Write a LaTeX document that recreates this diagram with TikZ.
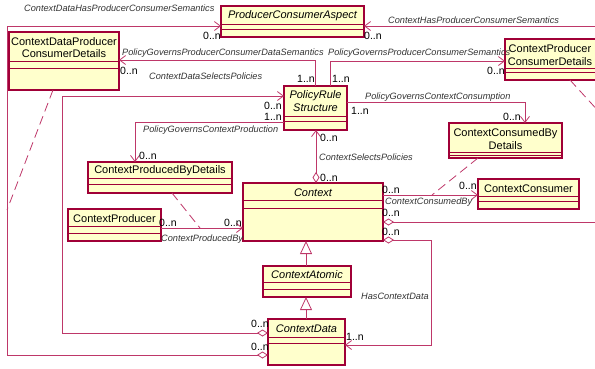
\documentclass[tikz,border=0pt]{standalone}
\usepackage{fontspec}
\setmainfont{Liberation Sans}
\usetikzlibrary{arrows.meta}
\definecolor{boxfill}{RGB}{255,255,204}
\definecolor{boxline}{RGB}{160,0,55}
\definecolor{conn}{RGB}{190,55,105}
\tikzset{
  clsbox/.style={draw=boxline, fill=boxfill, line width=1.1pt, inner sep=0pt, outer sep=0pt, rectangle},
  cline/.style={draw=boxline, line width=0.9pt},
  ttl/.style={font=\fontsize{11}{12.8}\selectfont, align=center, inner sep=0pt},
  ittl/.style={font=\fontsize{11}{12.8}\selectfont\itshape, align=center, inner sep=0pt},
  assoc/.style={draw=conn, line width=0.8pt},
  dashlink/.style={draw=conn, line width=0.8pt, dash pattern=on 9pt off 5pt},
  lbl/.style={font=\fontsize{9.2}{10}\selectfont\itshape, text=black!80, inner sep=0pt, anchor=west},
  mult/.style={font=\fontsize{10.5}{11}\selectfont, inner sep=0pt, anchor=west},
  barb/.style={arrows={-{Straight Barb[length=6pt,width=9pt]}}},
  dbarb/.style={arrows={{Diamond[open,length=11pt,width=7pt]}-{Straight Barb[length=6pt,width=9pt]}}},
  gen/.style={arrows={-{Triangle[open,length=13pt,width=12pt]}}},
}
\newcommand\umlcls[7]{%
  \node[clsbox, anchor=north west, minimum width={#4-#2}, minimum height={#5-#3}] (#1) at (#2,#3) {};
  \draw[cline] (#2,#6) -- (#4,#6) (#2,#7) -- (#4,#7);
}
\begin{document}
\begin{tikzpicture}[x=1pt,y=-1pt]
\useasboundingbox (0,0) rectangle (595,368);

% ---------- classes ----------
\umlcls{cdpcd}{9}{32}{119}{90}{61}{68}
\umlcls{pca}{221}{6}{364}{37}{24}{29}
\umlcls{cpcd}{505}{39}{600}{80}{68}{72}
\umlcls{prs}{284}{86}{347}{130}{116}{121}
\umlcls{ccbd}{449}{123}{562}{158}{152}{155}
\umlcls{cpbd}{88}{162}{232}{193}{178}{184}
\umlcls{cc}{478}{179}{579}{209}{196}{201}
\umlcls{ctx}{243}{183}{383}{241}{200}{208}
\umlcls{cp}{68}{209}{161}{241}{226}{233}
\umlcls{ca}{263}{266}{351}{297}{282}{289}
\umlcls{cd}{268}{319}{345}{365}{337}{343}

\node[ttl]  (tcdpcd) at (64,47.5) {ContextDataProducer\\ConsumerDetails};
\node[ittl] (tpca)   at (292.5,15.5) {ProducerConsumerAspect};
\node[ttl]  (tcpcd)  at (550,55) {ContextProducer\\ConsumerDetails};
\node[ittl] (tprs)   at (315.5,101) {PolicyRule\\Structure};
\node[ttl]  (tccbd)  at (505.5,139) {ContextConsumedBy\\Details};
\node[ttl]  (tcpbd)  at (160,171) {ContextProducedByDetails};
\node[ttl]  (tcc)    at (528.5,188.5) {ContextConsumer};
\node[ittl] (tctx)   at (313,192.5) {Context};
\node[ttl]  (tcp)    at (114.5,218.5) {ContextProducer};
\node[ittl] (tca)    at (307,275) {ContextAtomic};
\node[ittl] (tcd)    at (306.5,329) {ContextData};

% ---------- helper coordinates ----------
\coordinate (k1) at (7,355);
\coordinate (k2) at (7,26);
\coordinate (r1) at (620,222);
\coordinate (r2) at (620,26);
\coordinate (h1) at (431,240);
\coordinate (h2) at (431,345);
\coordinate (Y195) at (0,195);
\coordinate (Y228) at (0,228);
\coordinate (X316) at (316,0);
\coordinate (X306) at (306,0);
\coordinate (s1) at (62,333);
\coordinate (s2) at (62,96);
\coordinate (p1) at (315,60);
\coordinate (p2) at (330,61);
\coordinate (c1) at (525,102);
\coordinate (c2) at (135,122);
\coordinate (m1) at (432,195);
\coordinate (m2) at (200,228);
\coordinate (m3) at (7,210);
\coordinate (m4) at (622,137);
\coordinate (X53) at (53,0);
\coordinate (X570) at (570,0);
\coordinate (X478) at (478,0);
\coordinate (X172) at (172,0);

% ---------- connectors ----------
% ContextData -> ProducerConsumerAspect
\draw[assoc, dbarb] (cd.west |- k1) -- (k1) -- (k2) -- (pca.west |- k2);
% Context -> ProducerConsumerAspect
\draw[assoc, dbarb] (ctx.east |- r1) -- (r1) -- (r2) -- (pca.east |- r2);
% HasContextData
\draw[assoc, dbarb] (ctx.east |- h1) -- (h1) -- (h2) -- (cd.east |- h2);
% ContextConsumedBy
\draw[assoc, barb] (ctx.east |- Y195) -- (cc.west |- Y195);
% ContextProducedBy
\draw[assoc, barb] (cp.east |- Y228) -- (ctx.west |- Y228);
% ContextSelectsPolicies
\draw[assoc, dbarb] (ctx.north -| X316) -- (prs.south -| X316);
% ContextDataSelectsPolicies
\draw[assoc, dbarb] (cd.west |- s1) -- (s1) -- (s2) -- (prs.west |- s2);
% PolicyGovernsProducerConsumerDataSemantics
\draw[assoc, barb] (prs.north -| p1) -- (p1) -- (cdpcd.east |- p1);
% PolicyGovernsProducerConsumerSemantics
\draw[assoc, barb] (prs.north -| p2) -- (p2) -- (cpcd.west |- p2);
% PolicyGovernsContextConsumption
\draw[assoc, barb] (prs.east |- c1) -- (c1) -- (ccbd.north -| c1);
% PolicyGovernsContextProduction
\draw[assoc, barb] (prs.west |- c2) -- (c2) -- (cpbd.north -| c2);
% association-class links
\draw[dashlink] (ccbd.south -| X478) -- (m1);
\draw[dashlink] (cpbd.south -| X172) -- (m2);
\draw[dashlink] (cdpcd.south -| X53) -- (m3);
\draw[dashlink] (cpcd.south -| X570) -- (m4);
% generalizations
\draw[assoc, gen] (ca.north -| X306) -- (ctx.south -| X306);
\draw[assoc, gen] (cd.north -| X306) -- (ca.south -| X306);

% ---------- association labels ----------
\node[lbl] (l1)  at (24,8.5)   {ContextDataHasProducerConsumerSemantics};
\node[lbl] (l2)  at (388,20)   {ContextHasProducerConsumerSemantics};
\node[lbl] (l3)  at (122,53)   {PolicyGovernsProducerConsumerDataSemantics};
\node[lbl] (l4)  at (328,53)   {PolicyGovernsProducerConsumerSemantics};
\node[lbl] (l5)  at (149,76)   {ContextDataSelectsPolicies};
\node[lbl] (l6)  at (365,97)   {PolicyGovernsContextConsumption};
\node[lbl] (l7)  at (143,130)  {PolicyGovernsContextProduction};
\node[lbl] (l8)  at (319,157)  {ContextSelectsPolicies};
\node[lbl] (l9)  at (385,202)  {ContextConsumedBy};
\node[lbl] (l10) at (161,239)  {ContextProducedBy};
\node[lbl] (l11) at (361,296)  {HasContextData};

% ---------- multiplicities ----------
\node[mult] (n1)  at (203,36)  {0..n};
\node[mult] (n2)  at (364,36)  {0..n};
\node[mult] (n3)  at (120,71)  {0..n};
\node[mult] (n4)  at (487,71)  {0..n};
\node[mult] (n5)  at (297,79)  {1..n};
\node[mult] (n6)  at (332,79)  {1..n};
\node[mult] (n7)  at (264,106) {0..n};
\node[mult] (n8)  at (264,117) {1..n};
\node[mult] (n9)  at (351,111) {1..n};
\node[mult] (n10) at (503,117) {0..n};
\node[mult] (n11) at (139,156) {0..n};
\node[mult] (n12) at (320,138) {0..n};
\node[mult] (n13) at (320,178) {0..n};
\node[mult] (n14) at (382,190) {0..n};
\node[mult] (n15) at (459,186) {0..n};
\node[mult] (n16) at (382,213) {0..n};
\node[mult] (n17) at (382,232) {0..n};
\node[mult] (n18) at (159,223) {0..n};
\node[mult] (n19) at (224,223) {0..n};
\node[mult] (n20) at (251,324) {0..n};
\node[mult] (n21) at (251,347) {0..n};
\node[mult] (n22) at (346,337) {1..n};
\end{tikzpicture}
\end{document}
